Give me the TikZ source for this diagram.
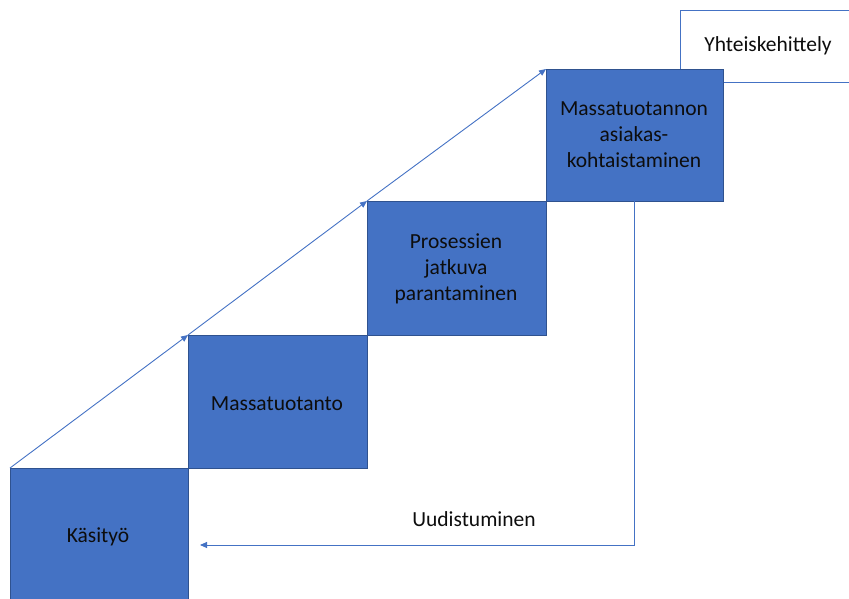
\documentclass[tikz,border=0pt]{standalone}
\usepackage{fontspec}
\setmainfont{Carlito}
\usetikzlibrary{arrows.meta}
\definecolor{boxfill}{HTML}{4472C4}
\definecolor{boxline}{HTML}{2F528F}
\definecolor{txt}{HTML}{0D0D0D}
\begin{document}
\begin{tikzpicture}[x=1pt,y=-1pt,
  stepbox/.style={draw=boxline,fill=boxfill,line width=0.8pt},
  lbl/.style={text=txt,font=\fontsize{21.5}{26}\selectfont,align=center},
  flow/.style={draw=boxfill,line width=0.9pt,-{Triangle[length=7pt,width=6pt]}}]
\useasboundingbox (0,0) rectangle (849,599);
% white box behind
\fill[white] (680.5,10.5) rectangle (860,81.5);
\draw[draw=boxfill,line width=0.8pt] (860,10) -- (680,10) -- (680,82) -- (860,82);
\node[lbl] (yht) at (768,46) {Yhteiskehittely};
% steps
\draw[stepbox] (10,468) rectangle (188,610);
\draw[stepbox] (188,335) rectangle (367,468);
\draw[stepbox] (367,201) rectangle (546,335);
\draw[stepbox] (546,69) rectangle (723,201);
\node[lbl] (k) at (98,537) {Käsityö};
\node[lbl] (m) at (277,404) {Massatuotanto};
\node[lbl] (p) at (456,269) {Prosessien\\jatkuva\\parantaminen};
\node[lbl] (ma) at (634,135) {Massatuotannon\\asiakas-\\kohtaistaminen};
% coordinates
\coordinate (c0) at (10,468);
\coordinate (c1) at (188,335);
\coordinate (c2) at (367,201);
\coordinate (c3) at (546,69);
\coordinate (fb) at (634,201);
\coordinate (fe) at (200,545);
\draw[flow] (c0) -- (c1);
\draw[flow] (c1) -- (c2);
\draw[flow] (c2) -- (c3);
\draw[flow] (fb) |- (fe);
\node[lbl] (u) at (474,519) {Uudistuminen};
\end{tikzpicture}
\end{document}
